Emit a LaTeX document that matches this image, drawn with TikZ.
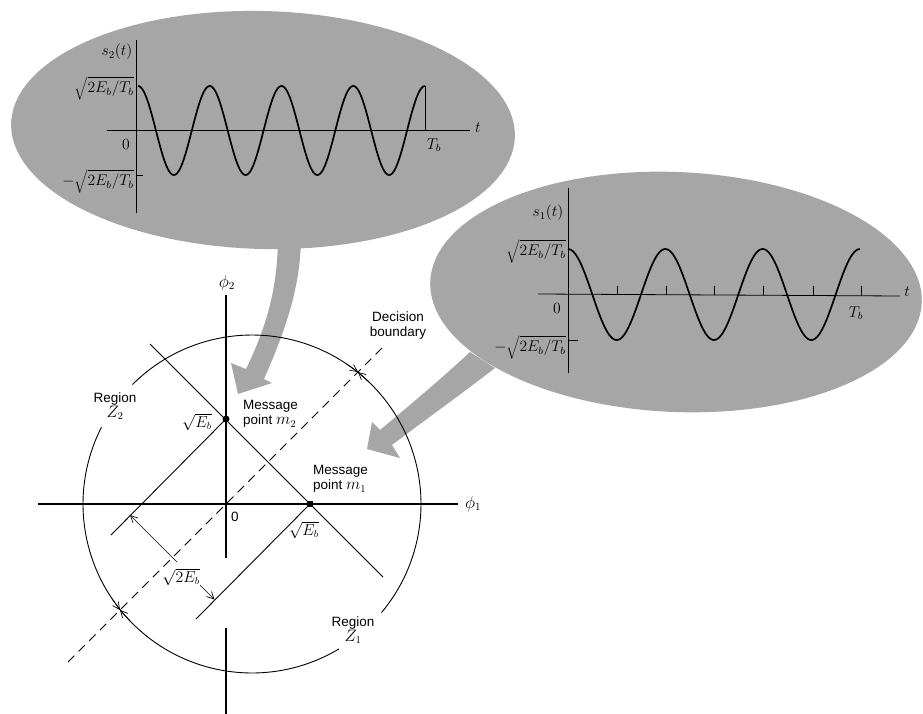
\documentclass[tikz,border=0pt]{standalone}
\usepackage{fontspec}
\setmainfont{Liberation Sans}
\usetikzlibrary{arrows.meta}
\definecolor{halftone}{gray}{0.65}
\newcommand{\plab}[1]{\scalebox{1.3}{$#1$}}
\begin{document}
\begin{tikzpicture}[x=1pt,y=-1pt,
  lbl/.style={font=\fontsize{13.5}{15}\selectfont, inner sep=0pt},
  plbl/.style={font=\fontsize{12}{14}\selectfont, inner sep=0pt},
  axisline/.style={line width=1.5pt},
  thinline/.style={line width=0.9pt},
  plotaxis/.style={line width=0.8pt},
  wave/.style={line width=1.7pt},
  blob/.style={fill=halftone, draw=none},
  dot/.style={circle, fill=black, inner sep=0pt, minimum size=7pt},
  barb/.style={line width=0.7pt, -{Straight Barb[length=7pt,width=7pt]}},
  boundary/.style={line width=0.9pt, dash pattern=on 9pt off 6pt}]
\useasboundingbox (0,0) rectangle (923,714);

% ---------- grey blobs and arrows ----------
\fill[blob] plot[domain=0:360, samples=120, variable=\t]
  ({263+252*cos(\t)*cos(1.5)-119*sin(\t)*sin(1.5)},
   {130+252*cos(\t)*sin(1.5)+119*sin(\t)*cos(1.5)});
\fill[blob] plot[domain=0:360, samples=120, variable=\t]
  ({676+246*cos(\t)*cos(2.5)-120*sin(\t)*sin(2.5)},
   {292+246*cos(\t)*sin(2.5)+120*sin(\t)*cos(2.5)});
% arrow from top blob to m2
\fill[blob] (278,235) .. controls (278,280) and (270,320) .. (246,369)
  -- (231,363) -- (238,394) -- (272,383) -- (264,379)
  .. controls (290,320) and (301,280) .. (301,235) -- cycle;
% arrow from right blob to m1
\fill[blob] (470,352) .. controls (440,380) and (410,405) .. (380,430)
  -- (372,422) -- (367,449) -- (400,458) -- (392,445)
  .. controls (425,420) and (460,395) .. (495,368) -- cycle;

% ---------- top plot: s2(t) ----------
\draw[plotaxis] (136,40) -- (136,213);
\draw[plotaxis] (107,130) -- (470,130);
\draw[plotaxis] (136,175) -- (143,175);
\draw[line width=0.5pt] (425,86) -- (425,130);
\draw[wave] plot[domain=0:1, samples=240, variable=\u]
  ({138+287*\u},{130.5-44.5*cos(4*360*\u)});
\node[plbl] (s2lab) at (117,52) {\plab{s_2(t)}};
\node[plbl, anchor=east] (s2hi) at (134,88) {\plab{\sqrt{2E_b/T_b}}};
\node[plbl] (s2zero) at (126,144) {\plab{0}};
\node[plbl, anchor=east] (s2lo) at (134,181) {\plab{-\sqrt{2E_b/T_b}}};
\node[plbl] (s2Tb) at (434,145) {\plab{T_b}};
\node[plbl] (s2t) at (478,128) {\plab{t}};

% ---------- right plot: s1(t) ----------
\draw[plotaxis] (568,188) -- (568,373);
\draw[plotaxis] (538,294) -- (900,296);
\draw[plotaxis] (568,340) -- (578,340);
\foreach \xx in {617,666,714,763,813,861}
  \draw[line width=0.6pt] (\xx,295) -- (\xx,286);
\draw[wave] plot[domain=0:1, samples=200, variable=\u]
  ({568+292*\u},{294.5-45.5*cos(3*360*\u)});
\node[plbl] (s1lab) at (548,213) {\plab{s_1(t)}};
\node[plbl, anchor=east] (s1hi) at (566,251) {\plab{\sqrt{2E_b/T_b}}};
\node[plbl] (s1zero) at (557,308) {\plab{0}};
\node[plbl, anchor=east] (s1lo) at (566,347) {\plab{-\sqrt{2E_b/T_b}}};
\node[plbl] (s1Tb) at (856,313) {\plab{T_b}};
\node[plbl] (s1t) at (907,292) {\plab{t}};

% ---------- signal space ----------
\coordinate (O) at (226,504);
\coordinate (P2) at (226,419);
\coordinate (P1) at (310,504);
% circle with two gaps
\draw[thinline] plot[domain=59:207, samples=80, variable=\a]
  ({252+169*cos(\a)},{504+169*sin(\a)});
\draw[thinline] plot[domain=225:400, samples=90, variable=\a]
  ({252+169*cos(\a)},{504+169*sin(\a)});
% axes
\draw[axisline] (38,504) -- (458,504);
\draw[axisline] (226,295) -- (226,558);
\draw[axisline] (226,628) -- (226,714);
% constellation lines
\coordinate (L1a) at (150,344);
\coordinate (L1b) at (383,577);
\coordinate (L2b) at (111,535);
\coordinate (L3b) at (196,619);
\draw[thinline] (L1a) -- (L1b);
\draw[thinline] (P2) -- (L2b);
\draw[thinline] (P1) -- (L3b);
% decision boundary
\coordinate (DBa) at (68,662);
\coordinate (DBb) at (382,348);
\draw[boundary] (DBa) -- (DBb);
% boundary/circle intersection marks
\coordinate (U) at (358,372);
\coordinate (L) at (120,610);
\draw[barb] (346.5,363.9) -- (U);
\draw[barb] (369.4,382.4) -- (U);
\draw[barb] (111.9,598.5) -- (L);
\draw[barb] (130.4,621.4) -- (L);
% distance sqrt(2Eb)
\coordinate (D1) at (130,515);
\coordinate (D2) at (214.5,599.5);
\draw[barb] (177,562) -- (D1);
\draw[barb] (200,585) -- (D2);
% message points
\node[dot] (m2) at (P2) {};
\node[dot, rectangle, minimum size=6.5pt] (m1) at (P1) {};

% labels
\node[lbl] (phi2) at (227,283) {\scalebox{1.2}{$\phi_2$}};
\node[lbl, anchor=west] (phi1) at (465,504) {\scalebox{1.2}{$\phi_1$}};
\node[lbl] (zero) at (235,517) {0};
\node[lbl, align=center] (dec) at (398,326) {Decision\\boundary};
\node[lbl, align=center] (rz2) at (115,406) {Region\\\scalebox{1.15}{$Z_2$}};
\node[lbl, align=center] (rz1) at (353,630) {Region\\\scalebox{1.15}{$Z_1$}};
\node[lbl, anchor=west, align=left] (mp2) at (243,414) {Message\\point \scalebox{1.15}{$m_2$}};
\node[lbl, anchor=west, align=left] (mp1) at (313,479) {Message\\point \scalebox{1.15}{$m_1$}};
\node[lbl] (e2) at (197,422) {\scalebox{1.1}{$\sqrt{E_b}$}};
\node[lbl] (e1) at (304,530) {\scalebox{1.1}{$\sqrt{E_b}$}};
\node[lbl] (e12) at (181,577) {\scalebox{1.1}{$\sqrt{2E_b}$}};
\end{tikzpicture}
\end{document}
